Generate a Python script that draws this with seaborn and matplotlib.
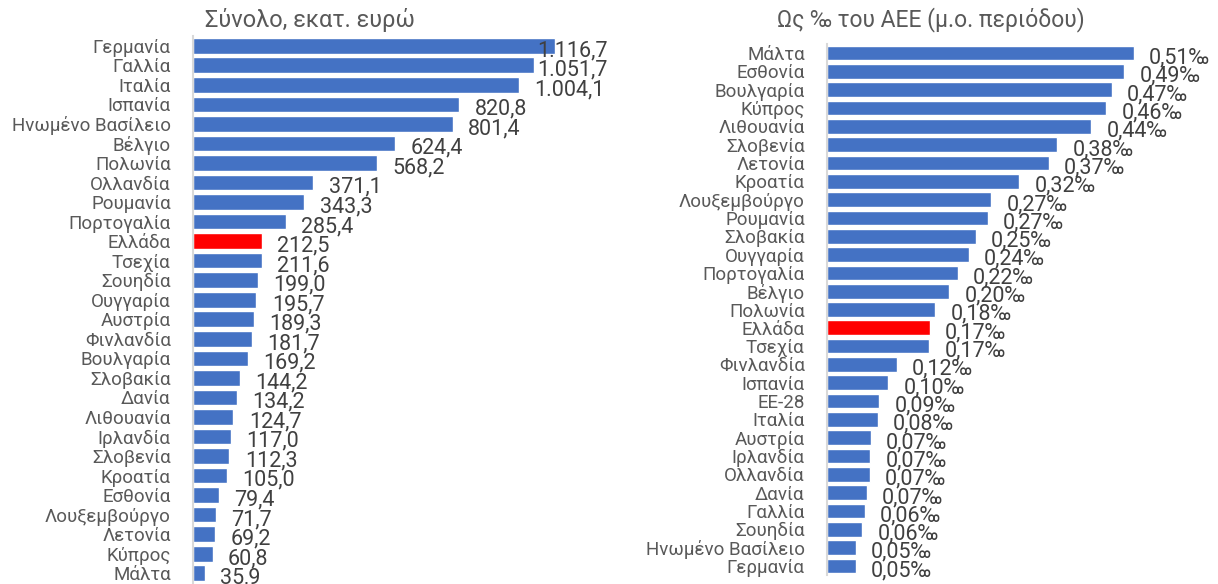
import matplotlib
matplotlib.use("Agg")
import matplotlib.pyplot as plt
import seaborn as sns

# left panel: total, million euro
countries_total = ["Γερμανία", "Γαλλία", "Ιταλία", "Ισπανία", "Ηνωμένο Βασίλειο", "Βέλγιο",
                   "Πολωνία", "Ολλανδία", "Ρουμανία", "Πορτογαλία", "Ελλάδα", "Τσεχία",
                   "Σουηδία", "Ουγγαρία", "Αυστρία", "Φινλανδία", "Βουλγαρία", "Σλοβακία",
                   "Δανία", "Λιθουανία", "Ιρλανδία", "Σλοβενία", "Κροατία", "Εσθονία",
                   "Λουξεμβούργο", "Λετονία", "Κύπρος", "Μάλτα"]
values_total = [1116.7, 1051.7, 1004.1, 820.8, 801.4, 624.4, 568.2, 371.1, 343.3, 285.4,
                212.5, 211.6, 199.0, 195.7, 189.3, 181.7, 169.2, 144.2, 134.2, 124.7,
                117.0, 112.3, 105.0, 79.4, 71.7, 69.2, 60.8, 35.9]

# right panel: per mille of GNI (period average)
countries_gni = ["Μάλτα", "Εσθονία", "Βουλγαρία", "Κύπρος", "Λιθουανία", "Σλοβενία", "Λετονία",
                 "Κροατία", "Λουξεμβούργο", "Ρουμανία", "Σλοβακία", "Ουγγαρία", "Πορτογαλία",
                 "Βέλγιο", "Πολωνία", "Ελλάδα", "Τσεχία", "Φινλανδία", "Ισπανία", "ΕΕ-28",
                 "Ιταλία", "Αυστρία", "Ιρλανδία", "Ολλανδία", "Δανία", "Γαλλία", "Σουηδία",
                 "Ηνωμένο Βασίλειο", "Γερμανία"]
values_gni = [0.510, 0.494, 0.473, 0.464, 0.439, 0.383, 0.369, 0.320, 0.273, 0.267, 0.247,
              0.236, 0.217, 0.203, 0.180, 0.171, 0.170, 0.116, 0.102, 0.087, 0.084, 0.073,
              0.072, 0.071, 0.066, 0.063, 0.059, 0.048, 0.048]

highlight = "Ελλάδα"
BLUE = "#4472C4"
RED = "#FF0000"
GREY = "#595959"

sns.set_style("white")
plt.rcParams['font.family'] = ['Roboto', 'DejaVu Sans']


def fmt_total(v):
  s = f"{v:,.1f}"
  return s.replace(",", "X").replace(".", ",").replace("X", ".")


def fmt_gni(v):
  return f"{v:.2f}".replace(".", ",") + "‰"


def draw_panel(ax, countries, values, fmt, xmax):
  palette = {c: (RED if c == highlight else BLUE) for c in countries}
  sns.barplot(x=values, y=countries, hue=countries, palette=palette, legend=False,
              orient="h", width=0.8, ax=ax, saturation=1)
  for cont in ax.containers:
    ax.bar_label(cont, labels=[fmt(b.get_width()) for b in cont], padding=11,
                 fontsize=15.5, color="#404040")
  # labels sit a little below the bar centre, as in the original
  for t in ax.texts:
    t.xyann = (t.xyann[0], -3.5)
  ax.set_xlim(0, xmax)
  ax.set_ylim(len(countries) - 0.5, -0.5)
  ax.set_xticks([])
  ax.set_xlabel("")
  ax.set_ylabel("")
  ax.tick_params(axis="y", length=0, pad=16, labelsize=13.5, labelcolor=GREY)
  for s in ["top", "right", "bottom"]:
    ax.spines[s].set_visible(False)
  ax.spines["left"].set_color("#D9D9D9")
  ax.spines["left"].set_linewidth(1.5)


def keep_labels_inside(fig, ax):
  # like Excel, pull labels back so they stay inside the plot area
  fig.canvas.draw()
  right = ax.get_window_extent().x1
  for t in ax.texts:
    bb = t.get_window_extent()
    if bb.x1 > right:
      shift = (bb.x1 - right) * 72 / fig.dpi
      t.xyann = (t.xyann[0] - shift, t.xyann[1])


fig = plt.figure(figsize=(12.18, 5.84), dpi=100)

ax1 = fig.add_axes([193 / 1218, 1 - 583 / 584, 415 / 1218, 547 / 584])
draw_panel(ax1, countries_total, values_total, fmt_total, 1280)

ax2 = fig.add_axes([827 / 1218, 1 - 575 / 584, 391 / 1218, 531 / 584])
draw_panel(ax2, countries_gni, values_gni, fmt_gni, 0.65)

fig.text(310 / 1218, 1 - 20 / 584, "Σύνολο, εκατ. ευρώ", ha="center", va="center",
         fontsize=17, color=GREY)
fig.text(931 / 1218, 1 - 20 / 584, "Ως ‰ του ΑΕΕ (μ.ο. περιόδου)", ha="center", va="center",
         fontsize=16.5, color=GREY)

keep_labels_inside(fig, ax1)

plt.savefig("out.png", dpi=100)
